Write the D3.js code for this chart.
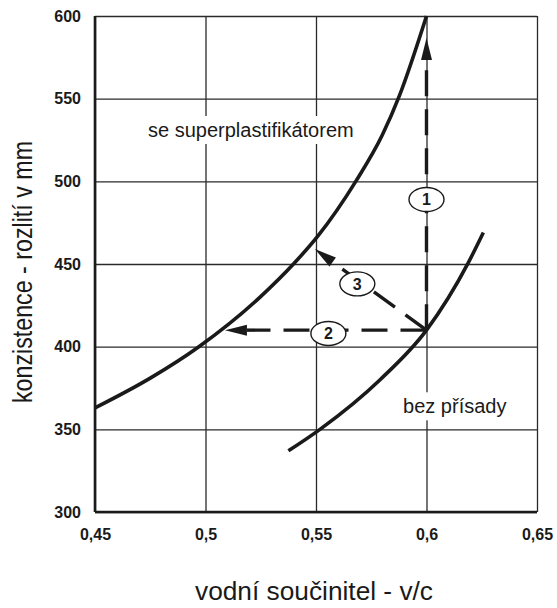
<!DOCTYPE html>
<html><head><meta charset="utf-8">
<script src="https://cdn.jsdelivr.net/npm/d3@7"></script>
<style>body{margin:0;background:#fff}</style>
</head><body>
<svg id="chart" width="557" height="608"></svg>
<script>
// ---- data ----
const xTickValues = [0.45, 0.5, 0.55, 0.6, 0.65];
const xTickLabels = ["0,45", "0,5", "0,55", "0,6", "0,65"];
const yTickValues = [300, 350, 400, 450, 500, 550, 600];
const seriesNames = ["se superplastifikátorem", "bez přísady"];
const superVC     = [0.45, 0.475, 0.497, 0.5247, 0.5398, 0.5509, 0.568, 0.58, 0.5878, 0.6];
const superSpread = [363, 381, 400, 430, 450, 467, 500, 528, 552, 600];
const bezVC       = [0.5375, 0.5518, 0.579, 0.6, 0.619, 0.6257];
const bezSpread   = [337, 350, 380, 410, 451, 469];
const arrowLabels    = ["1", "2", "3"];
const arrowOriginVC  = 0.6;
const arrowOriginSpr = 410;
const arrowTipVC     = [0.6, 0.5088, 0.5495];
const arrowTipSpread = [586.7, 410, 459];
const badgeVC        = [0.6, 0.5556, 0.5687];
const badgeSpread    = [489, 408, 438];
const xTitle = "vodní součinitel - v/c";
const yTitle = "konzistence - rozlití v mm";

// ---- layout ----
const W = 557, H = 608;
const m = {left: 95, right: 20, top: 16, bottom: 96};
const svg = d3.select("#chart");
const x = d3.scaleLinear().domain([0.45, 0.65]).range([m.left, W - m.right]);
const y = d3.scaleLinear().domain([300, 600]).range([H - m.bottom, m.top]);
const ink = "#1a1a1a";
const font = "Liberation Sans, Arial, sans-serif";

// grid
const gx = svg.append("g").attr("transform", `translate(0,${H - m.bottom})`)
  .call(d3.axisBottom(x).tickValues(xTickValues).tickSize(-(H - m.top - m.bottom)).tickFormat(""));
const gy = svg.append("g").attr("transform", `translate(${m.left},0)`)
  .call(d3.axisLeft(y).tickValues(yTickValues).tickSize(-(W - m.left - m.right)).tickFormat(""));
[gx, gy].forEach(g => {
  g.select(".domain").remove();
  g.selectAll("line").attr("stroke", "#2a2a2a").attr("stroke-width", 1.3);
});
// thick left / bottom frame
svg.append("line").attr("x1", x(0.45)).attr("x2", x(0.45)).attr("y1", y(600)).attr("y2", y(300))
  .attr("stroke", ink).attr("stroke-width", 2.6);
svg.append("line").attr("x1", x(0.45)).attr("x2", x(0.65)).attr("y1", y(300)).attr("y2", y(300))
  .attr("stroke", ink).attr("stroke-width", 2.6);

// tick labels
const ax = svg.append("g").attr("transform", `translate(0,${H - m.bottom})`)
  .call(d3.axisBottom(x).tickValues(xTickValues).tickSize(0).tickPadding(17)
    .tickFormat((d, i) => xTickLabels[i]));
const ay = svg.append("g").attr("transform", `translate(${m.left},0)`)
  .call(d3.axisLeft(y).tickValues(yTickValues).tickSize(0).tickPadding(14).tickFormat(d3.format("d")));
[ax, ay].forEach(g => {
  g.select(".domain").remove();
  g.selectAll("text").attr("font-family", font)
    .attr("font-weight", "bold").attr("font-size", 16).attr("fill", ink);
});

// curves
const line = d3.line().x(d => x(d[0])).y(d => y(d[1])).curve(d3.curveMonotoneX);
svg.append("path").datum(superVC.map((v, i) => [v, superSpread[i]]))
  .attr("d", line).attr("fill", "none").attr("stroke", ink).attr("stroke-width", 3.6);
svg.append("path").datum(bezVC.map((v, i) => [v, bezSpread[i]]))
  .attr("d", line).attr("fill", "none").attr("stroke", ink).attr("stroke-width", 3.6);

// arrows
const ox = x(arrowOriginVC), oy = y(arrowOriginSpr);
arrowTipVC.forEach((tv, i) => {
  const tx = x(tv), ty = y(arrowTipSpread[i]);
  const dx = tx - ox, dy = ty - oy, L = Math.hypot(dx, dy);
  const ux = dx / L, uy = dy / L;
  const headLen = 22, headW = 5.5;
  const bx = tx - ux * headLen, by = ty - uy * headLen;
  svg.append("line").attr("x1", ox).attr("y1", oy).attr("x2", bx).attr("y2", by)
    .attr("stroke", ink).attr("stroke-width", 3.4).attr("stroke-dasharray", "26,13");
  svg.append("path")
    .attr("d", `M${tx},${ty} L${bx - uy * headW},${by + ux * headW} L${bx + uy * headW},${by - ux * headW} Z`)
    .attr("fill", ink);
});

// badges
badgeVC.forEach((bv, i) => {
  const g = svg.append("g").attr("transform", `translate(${x(bv)},${y(badgeSpread[i])})`);
  g.append("ellipse").attr("rx", 17.5).attr("ry", 12).attr("fill", "#fff")
    .attr("stroke", ink).attr("stroke-width", 1.4);
  g.append("text").attr("text-anchor", "middle").attr("dy", "0.36em")
    .attr("font-family", font).attr("font-weight", "bold")
    .attr("font-size", 16).attr("fill", ink).text(arrowLabels[i]);
});

// series labels with white backing
const lbls = [
  {t: seriesNames[0], vc: 0.474, s: 526.8},
  {t: seriesNames[1], vc: 0.5894, s: 359.7}
];
lbls.forEach(l => {
  const t = svg.append("text").attr("x", x(l.vc)).attr("y", y(l.s))
    .attr("font-family", font).attr("font-size", 20)
    .attr("fill", ink).text(l.t);
  const b = t.node().getBBox();
  svg.insert("rect", () => t.node()).attr("x", b.x - 6).attr("y", b.y - 3)
    .attr("width", b.width + 12).attr("height", b.height + 6).attr("fill", "#fff");
});

// axis titles
svg.append("text").attr("x", 314).attr("y", 600).attr("text-anchor", "middle")
  .attr("font-family", font).attr("font-size", 26)
  .attr("textLength", 238).attr("lengthAdjust", "spacingAndGlyphs")
  .attr("fill", ink).text(xTitle);
svg.append("text").attr("transform", "translate(32,272) rotate(-90)").attr("text-anchor", "middle")
  .attr("font-family", font).attr("font-size", 28)
  .attr("textLength", 262).attr("lengthAdjust", "spacingAndGlyphs")
  .attr("fill", ink).text(yTitle);
</script>
</body></html>
